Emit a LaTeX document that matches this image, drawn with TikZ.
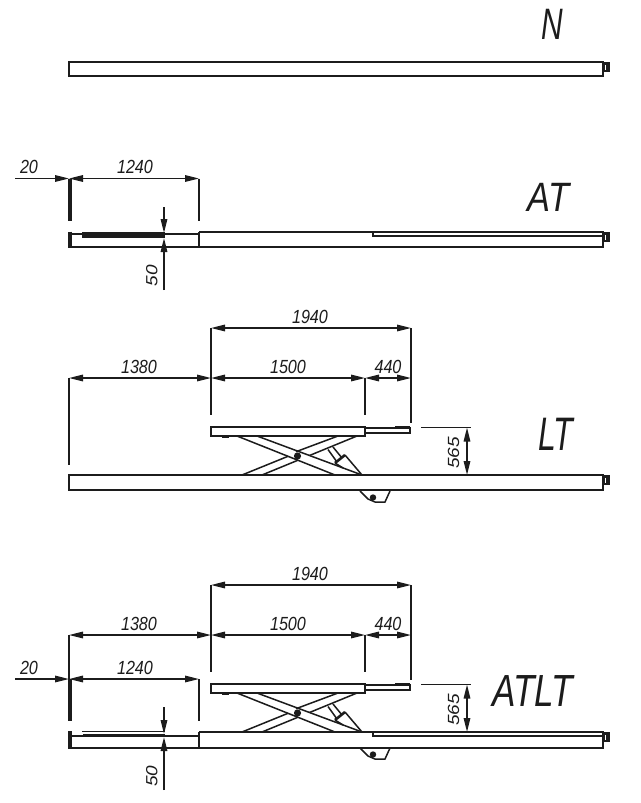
\documentclass[tikz,border=0pt]{standalone}
\usepackage{fontspec}
\setmainfont{Liberation Sans}
\usetikzlibrary{arrows.meta}
\definecolor{ink}{HTML}{1C1C1C}
\tikzset{
  part/.style={draw=ink,line width=2pt,line join=miter},
  thin part/.style={draw=ink,line width=1.5pt},
  heavy/.style={draw=ink,line width=3.6pt},
  ext/.style={draw=ink,line width=1.6pt},
  dim/.style={draw=ink,line width=1.6pt,{Triangle[length=14pt,width=6.5pt]}-{Triangle[length=14pt,width=6.5pt]}},
  lead/.style={draw=ink,line width=1.6pt,-{Triangle[length=14pt,width=6.5pt]}},
  dimtext/.style={text=ink,inner sep=0pt,font=\fontsize{19}{19}\selectfont\itshape,xscale=.85},
  title/.style={text=ink,inner sep=0pt,font=\fontsize{#1}{#1}\selectfont\itshape},
}
\newcommand{\beamcap}[1]{%
  \fill[ink] (603,#1) rectangle (610,#1+10);
  \fill[white] (605,#1+3) rectangle (606.3,#1+8);
}
\newcommand{\liftunit}{%
  % scissor arms
  \draw[thin part] (237,436) -- (335,475);
  \draw[thin part] (257,436) -- (362,475);
  \draw[thin part] (338,436) -- (296,451.7);
  \draw[thin part] (288,456.3) -- (242,475);
  \draw[thin part] (357,436) -- (309.5,455.5);
  \draw[thin part] (298,460.2) -- (262,475);
  \fill[ink] (297.5,456) circle (3.6);
  % cylinder
  \draw[thin part] (328,449.5) -- (337,462);
  \draw[thin part] (333,447) -- (342,458);
  \draw[draw=ink,line width=2.6pt] (335,463) -- (345,455);
  \draw[thin part] (345,455) -- (362,475);
  \draw[thin part] (335,463) -- (343,468);
  % lower bracket
  \draw[thin part] (360,491) -- (368,499) -- (375,502) -- (385,502) -- (390,491);
  \fill[ink] (373,497.5) circle (3.2);
  % platform and extension
  \draw[part] (211,427) rectangle (365,436);
  \draw[part] (365,428) -- (410,428) -- (410,433) -- (365,433);
  \draw[draw=ink,line width=2.6pt] (395,427.2) -- (410,427.2);
  \draw[draw=ink,line width=1.6pt] (222,437) -- (229,437);
  % dimensions
  \draw[ext] (211,328) -- (211,415);
  \draw[ext] (411,328) -- (411,423);
  \draw[ext] (365,378) -- (365,415);
  \draw[dim] (211,328) -- (411,328);
  \draw[dim] (211,378) -- (365,378);
  \draw[dim] (365,378) -- (411,378);
  \draw[dim] (69,378) -- (211,378);
  \draw[ext] (421,427.5) -- (471,427.5);
  \draw[dim] (467,427.5) -- (467,475);
  \node[dimtext] (a) at (310,316.5) {1940};
  \node[dimtext] (b) at (288,367) {1500};
  \node[dimtext] (c) at (388,367) {440};
  \node[dimtext] (d) at (139,367) {1380};
  \node[dimtext,rotate=90] (e) at (453.5,453) {565};
}
\newcommand{\leftdims}[1]{%
  \draw[heavy] (69.8,#1) -- (69.8,#1+42);
  \draw[ext] (199,#1) -- (199,#1+42);
  \draw[lead] (15,#1) -- (69,#1);
  \draw[dim] (69,#1) -- (199,#1);
  \node[dimtext] (f) at (29,#1-11.5) {20};
  \node[dimtext] (g) at (135,#1-11.5) {1240};
}
\begin{document}
\begin{tikzpicture}[x=1pt,y=-1pt]
\useasboundingbox (0,0) rectangle (640,803);
\fill[white] (0,0) rectangle (640,803);

% N
\node[title=44,xscale=.68] (tn) at (552.5,24) {N};
\draw[part] (69,62) rectangle (603,76);
\beamcap{62}

% AT
\node[title=41,xscale=.84] (tat) at (548.5,197) {AT};
\leftdims{178.5}
\draw[part] (199,232) -- (603,232) -- (603,247) -- (69,247);
\draw[part] (199,232) -- (199,247);
\draw[part] (69,234) -- (199,234);
\draw[heavy] (69.8,231.6) -- (69.8,247.8);
\draw[draw=ink,line width=5.6pt] (82,234.7) -- (165,234.7);
\draw[part] (373,232) -- (373,235.5) -- (603,235.5);
\beamcap{232}
\draw[lead] (164,207) -- (164,233);
\draw[lead] (164,290) -- (164,238);
\node[dimtext,rotate=90] (t50a) at (151.7,275.5) {50};

% LT
\node[title=47,xscale=.68] (tlt) at (555.5,434) {LT};
\draw[part] (69,475) rectangle (603,490);
\beamcap{475}
\draw[ext] (69,378) -- (69,465);
\liftunit

% ATLT
\begin{scope}[yshift=-257pt]
\liftunit
\end{scope}
\node[title=45,xscale=.78] (tatlt) at (533,691) {ATLT};
\draw[ext] (69,635) -- (69,679);
\leftdims{679}
\draw[part] (199,732) -- (603,732) -- (603,748) -- (69,748);
\draw[part] (199,732) -- (199,748);
\draw[part] (69,735.7) -- (199,735.7);
\draw[heavy] (69.8,731) -- (69.8,748.5);
\draw[thin part] (82,731.3) -- (165,731.3);
\draw[draw=ink,line width=3.4pt] (83,735.7) -- (165,735.7);
\draw[part] (373,732) -- (373,736) -- (603,736);
\beamcap{732}
\draw[lead] (164,707) -- (164,734);
\draw[lead] (164,790) -- (164,737);
\node[dimtext,rotate=90] (t50b) at (151.7,776) {50};
\end{tikzpicture}
\end{document}
